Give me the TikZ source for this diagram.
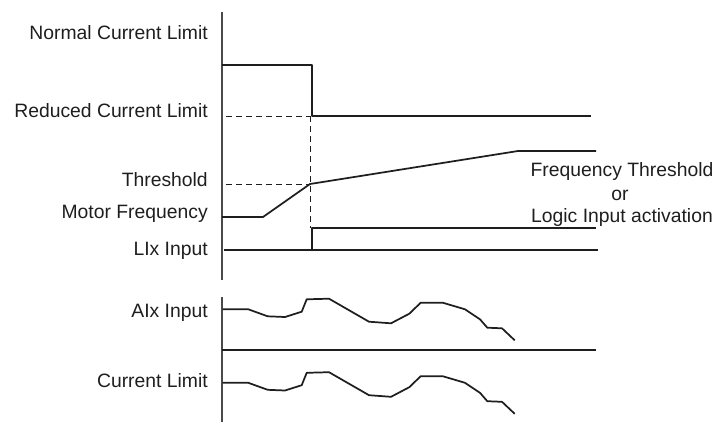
\documentclass[tikz,border=0pt]{standalone}
\usepackage{fontspec}
\setmainfont{Liberation Sans}
\definecolor{tdInk}{HTML}{1E1E1E}
\definecolor{tdAxis}{HTML}{4A4A4A}
\tikzset{
  td axis/.style={draw=tdAxis, line width=0.9pt},
  td signal/.style={draw=tdInk, line width=1.3pt, line join=round},
  td rule/.style={draw=tdInk, line width=0.8pt},
  td guide/.style={draw=tdInk, dash pattern=on 4.5pt off 3pt, line width=0.6pt},
  td label/.style={font=\fontsize{14.5}{17}\selectfont, text=tdInk, inner sep=0pt, anchor=base east},
  td note/.style={font=\fontsize{14.5}{17}\selectfont, text=tdInk, inner sep=0pt, anchor=base},
}

\begin{document}
\begin{tikzpicture}[x=0.75pt, y=-0.75pt]
  \useasboundingbox (0,0) rectangle (721,422);
  % ----- Axes -----
  \draw[td axis] (222,12) -- (222,280);
  \draw[td axis] (222,297) -- (222,422);
  % ----- Labels on the left -----
  \node[td label] (lblNormal) at (208,39) {Normal Current Limit};
  \node[td label] (lblReduced) at (208,117) {Reduced Current Limit};
  \node[td label] (lblThreshold) at (208,186) {Threshold};
  \node[td label] (lblMotor) at (208,218) {Motor Frequency};
  \node[td label] (lblLI) at (208,255) {LIx Input};
  \node[td label] (lblAI) at (208,317) {AIx Input};
  \node[td label] (lblLimit) at (208,387) {Current Limit};
  % ----- Note on the right -----
  \node[td note] (noteFreq) at (622,176) {Frequency Threshold};
  \node[td note] (noteOr) at (620,200) {or};
  \node[td note] (noteLogic) at (622,222) {Logic Input activation};
  % ----- Guides -----
  \draw[td guide] (226,116) -- (310,116);
  \draw[td guide] (226,184) -- (310,184);
  \draw[td guide] (310,116) -- (310,228);
  % ----- Current limit: normal, then reduced -----
  \draw[td signal] (222,65) -- (312,65) -- (312,116) -- (591,116);
  % ----- Motor frequency -----
  \draw[td signal] (222,217) -- (263,217) -- (310,184) -- (518,151) -- (596,151);
  % ----- LIx input -----
  \draw[td rule] (312,250) -- (598,250);
  \draw[td signal] (224,250) -- (312,250) -- (312,228) -- (596,228);
  % ----- AIx input and the current limit that follows it -----
  \draw[td rule] (222,350) -- (596,350);
  \foreach \dy in {0,73.5} {
    \draw[td signal, shift={(0,\dy)}] (222.7,309.3) -- (248.3,309.3) -- (267.7,316.3)
      -- (285,317) -- (301.7,311.7) -- (306.7,299.3) -- (329,298.7) -- (369,321.7)
      -- (391,323.3) -- (409.3,313.7) -- (420.7,302.7) -- (442.7,302.7) -- (465,309.3)
      -- (480,319.3) -- (487.3,327.7) -- (502,328.3) -- (514.7,340.3);
  }
\end{tikzpicture}
\end{document}
